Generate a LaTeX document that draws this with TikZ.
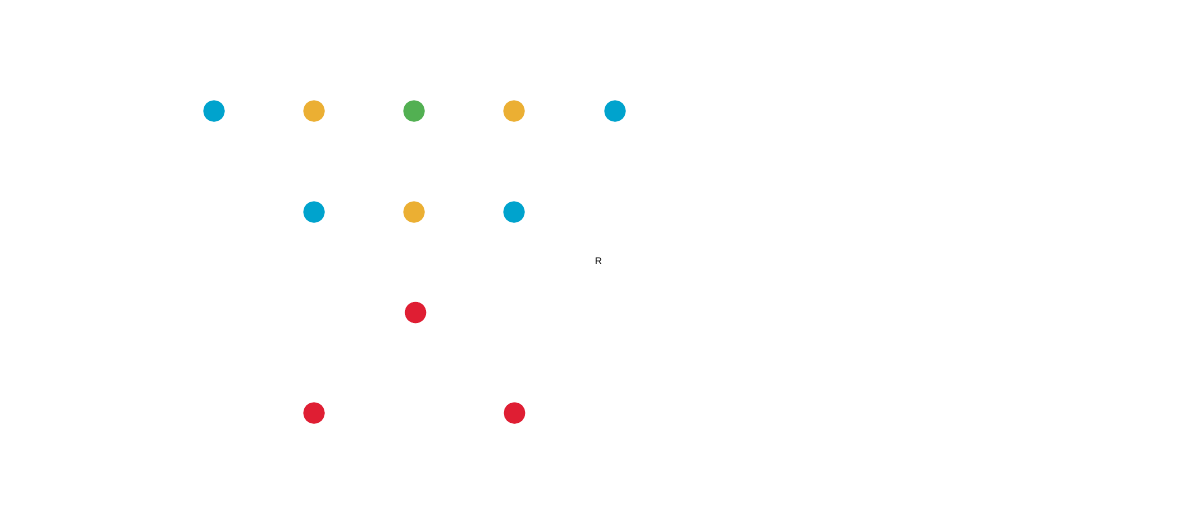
\documentclass[tikz,border=0pt]{standalone}
\usepackage{fontspec}
\setmainfont{Liberation Sans}
\definecolor{cblue}{HTML}{00A3CD}
\definecolor{corange}{HTML}{EBAF33}
\definecolor{cgreen}{HTML}{52B052}
\definecolor{cred}{HTML}{DF1E33}
\begin{document}
\begin{tikzpicture}[x=1pt,y=-1pt,
  dot/.style={circle,inner sep=0pt,minimum size=21.5pt,draw=none},
  lbl/.style={inner sep=0pt,font=\fontsize{9.5}{10}\selectfont}]
\useasboundingbox (0,0) rectangle (1200,525);
\fill[white] (0,0) rectangle (1200,525);
\node[dot,fill=cblue]   (a1) at (214,111) {};
\node[dot,fill=corange] (a2) at (314,111) {};
\node[dot,fill=cgreen]  (a3) at (414,111) {};
\node[dot,fill=corange] (a4) at (514,111) {};
\node[dot,fill=cblue]   (a5) at (615,111) {};
\node[dot,fill=cblue]   (b1) at (314,212) {};
\node[dot,fill=corange] (b2) at (414,212) {};
\node[dot,fill=cblue]   (b3) at (514,212) {};
\node[dot,fill=cred]    (c1) at (415.5,312.5) {};
\node[dot,fill=cred]    (d1) at (314,413) {};
\node[dot,fill=cred]    (d2) at (514.5,413) {};
\node[lbl] (r) at (598.5,261.5) {R};
\end{tikzpicture}
\end{document}
